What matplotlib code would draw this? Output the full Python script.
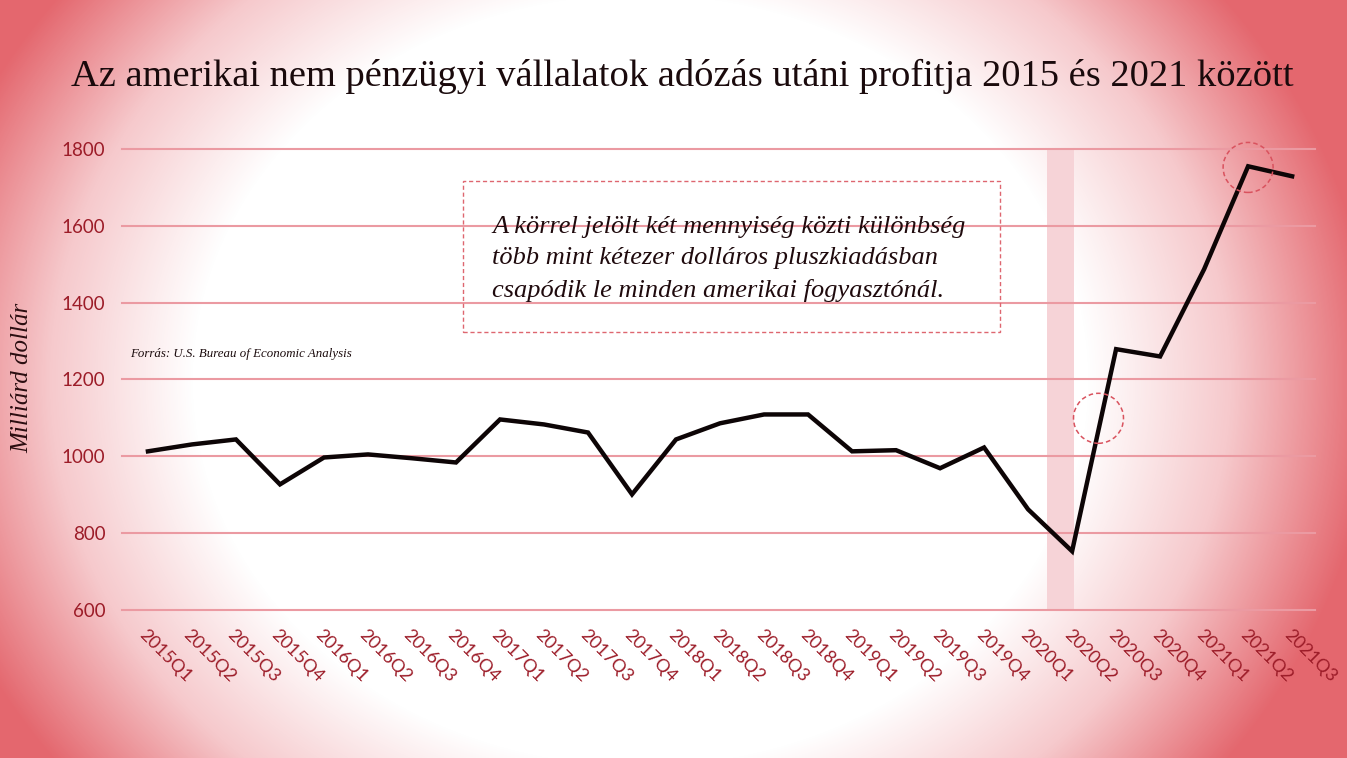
import numpy as np
import matplotlib.pyplot as plt
from matplotlib.patches import Circle, Rectangle
from matplotlib.transforms import ScaledTranslation
from matplotlib.colors import LinearSegmentedColormap

quarters = ["2015Q1", "2015Q2", "2015Q3", "2015Q4",
            "2016Q1", "2016Q2", "2016Q3", "2016Q4",
            "2017Q1", "2017Q2", "2017Q3", "2017Q4",
            "2018Q1", "2018Q2", "2018Q3", "2018Q4",
            "2019Q1", "2019Q2", "2019Q3", "2019Q4",
            "2020Q1", "2020Q2", "2020Q3", "2020Q4",
            "2021Q1", "2021Q2", "2021Q3"]
profit = [1013, 1031, 1044, 927,
          997, 1005, 995, 984,
          1096, 1083, 1062, 901,
          1044, 1086, 1109, 1109,
          1013, 1016, 969, 1023,
          862, 753, 1279, 1260,
          1487, 1755, 1729]
y_ticks = [600, 800, 1000, 1200, 1400, 1600, 1800]

# shaded band around 2020Q2 and the two marked points (index, value)
band = (20.43, 21.05)
marks = [(21.6, 1099), (25.0, 1752)]

title = "Az amerikai nem pénzügyi vállalatok adózás utáni profitja 2015 és 2021 között"
note = ("A körrel jelölt két mennyiség közti különbség\n"
        "több mint kétezer dolláros pluszkiadásban\n"
        "csapódik le minden amerikai fogyasztónál.")
source = "Forrás: U.S. Bureau of Economic Analysis"

W, H = 1347, 758
fig = plt.figure(figsize=(W / 100, H / 100), dpi=100)

# radial background
bg = fig.add_axes([0, 0, 1, 1], zorder=-10)
xx, yy = np.meshgrid(np.arange(W), np.arange(H))
r = np.sqrt(((xx - 640) / 720.0) ** 2 + ((yy - 380) / 620.0) ** 2)
t = np.clip((r - 0.62) / 0.40, 0, 1)
cmap = LinearSegmentedColormap.from_list("bgred", ["#ffffff", "#f6c9cc", "#e4676e"])
bg.imshow(t, cmap=cmap, vmin=0, vmax=1, aspect="auto", interpolation="bilinear")
bg.axis("off")

ax = fig.add_axes([122 / W, 1 - 610 / H, (1315 - 122) / W, (610 - 149) / H])
ax.patch.set_alpha(0)
x = np.arange(len(quarters))

for v in y_ticks:
    ax.axhline(v, color="#eb9aa2", lw=1.5, zorder=1, clip_on=False)
ax.axvspan(band[0], band[1], color="#f6d3d7", lw=0, zorder=0.5)
ax.plot(x, profit, color="#0d0506", lw=3.2, zorder=3, solid_joinstyle="miter")

for mx, my in marks:
    tr = fig.dpi_scale_trans + ScaledTranslation(mx, my, ax.transData)
    ax.add_patch(Circle((0, 0), 0.25, transform=tr, fill=False, clip_on=False,
                        edgecolor="#d9525e", lw=1.1, ls=(0, (3, 2)), zorder=4))

ax.set_xlim(-0.59, 26.52)
ax.set_ylim(600, 1800)
ax.set_yticks(y_ticks)
ax.set_xticks(x)
ax.set_xticklabels(quarters, rotation=-45, ha="left", va="top",
                   rotation_mode="anchor", fontsize=13, family="Lato", color="#9c1c28")
for lab in ax.get_yticklabels():
    lab.set_family("Lato")
ax.tick_params(axis="y", length=0, pad=12, labelsize=13.5, labelcolor="#9c1c28")
ax.tick_params(axis="x", length=0, pad=12)
for s in ax.spines.values():
    s.set_visible(False)

fig.text(682 / W, 1 - 76 / H, title, ha="center", va="center",
         family="Liberation Serif", fontsize=27.7, color="#1a0a0c")

fig.text(22 / W, 1 - 378 / H, "Milliárd dollár", rotation=90, ha="center", va="center",
         family="Liberation Serif", style="italic", fontsize=18, color="#2a0d10")

fig.text(130 / W, 1 - 354 / H, source, ha="left", va="center",
         family="Liberation Serif", style="italic", fontsize=9.3, color="#1a0a0c")

fig.patches.append(Rectangle((463 / W, 1 - 332 / H), (1000 - 463) / W, (332 - 181) / H,
                             transform=fig.transFigure, fill=False,
                             edgecolor="#de6670", lw=1.0, ls=(0, (3, 2))))
fig.text(492 / W, 1 - 259 / H, note, ha="left", va="center", linespacing=1.55,
         family="Liberation Serif", style="italic", fontsize=19, color="#1f0a0d")

fig.savefig("out.png", dpi=100)
